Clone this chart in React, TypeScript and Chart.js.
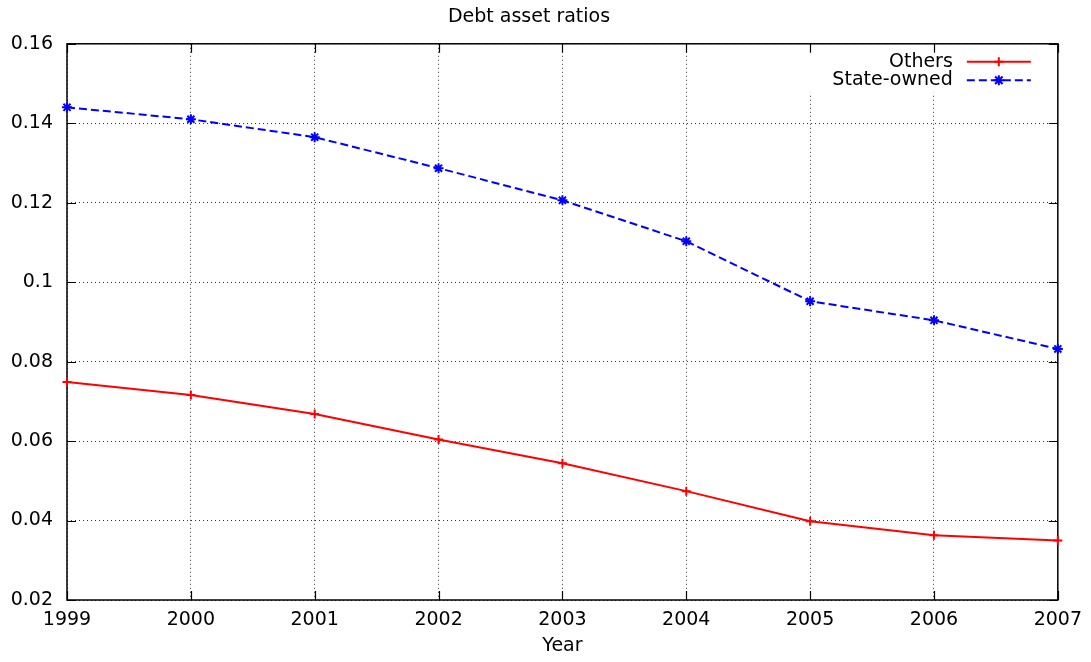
import React, { useEffect, useRef } from 'react';
import { Chart, registerables } from 'chart.js';

Chart.register(...registerables);

const years = ['1999', '2000', '2001', '2002', '2003', '2004', '2005', '2006', '2007'];
const others = [0.0749, 0.0716, 0.0668, 0.0604, 0.0544, 0.0474, 0.0398, 0.0363, 0.035];
const stateOwned = [0.144, 0.141, 0.1365, 0.1287, 0.1206, 0.1103, 0.0952, 0.0904, 0.0832];
const yMin = 0.02;
const yMax = 0.16;
const yStep = 0.02;

const FONT = '"DejaVu Sans", "Liberation Sans", sans-serif';

function drawMarker(ctx: CanvasRenderingContext2D, style: string, x: number, y: number, r: number) {
  ctx.beginPath();
  ctx.moveTo(x - r, y);
  ctx.lineTo(x + r, y);
  ctx.moveTo(x, y - r);
  ctx.lineTo(x, y + r);
  if (style === 'star') {
    const d = r * 0.75;
    ctx.moveTo(x - d, y - d);
    ctx.lineTo(x + d, y + d);
    ctx.moveTo(x - d, y + d);
    ctx.lineTo(x + d, y - d);
  }
  ctx.stroke();
}

const framePlugin = {
  id: 'gnuplotFrame',
  beforeDatasetsDraw(chart: any) {
    const { ctx, chartArea: a, scales } = chart;
    const xs = scales.x;
    const ys = scales.y;
    ctx.save();
    // blank area behind key
    ctx.fillStyle = '#ffffff';
    ctx.fillRect(a.right - 254, a.top, 254, 49);
    // border
    ctx.strokeStyle = '#000';
    ctx.lineWidth = 1.5;
    ctx.strokeRect(a.left, a.top, a.right - a.left, a.bottom - a.top);
    // inward ticks
    ctx.lineWidth = 1.2;
    const tl = 9;
    ctx.beginPath();
    xs.ticks.forEach((_t: any, i: number) => {
      const px = Math.round(xs.getPixelForTick(i)) + 0.5;
      ctx.moveTo(px, a.bottom);
      ctx.lineTo(px, a.bottom - tl);
      ctx.moveTo(px, a.top);
      ctx.lineTo(px, a.top + tl);
    });
    ys.ticks.forEach((_t: any, i: number) => {
      const py = Math.round(ys.getPixelForTick(i)) + 0.5;
      ctx.moveTo(a.left, py);
      ctx.lineTo(a.left + tl, py);
      ctx.moveTo(a.right, py);
      ctx.lineTo(a.right - tl, py);
    });
    ctx.stroke();
    ctx.restore();
  },
  afterDatasetsDraw(chart: any) {
    const { ctx, chartArea: a } = chart;
    ctx.save();
    ctx.font = `19px ${FONT}`;
    ctx.textAlign = 'right';
    ctx.textBaseline = 'middle';
    chart.data.datasets.forEach((ds: any, i: number) => {
      const cy = a.top + 18 + i * 18.5;
      ctx.fillStyle = '#000';
      ctx.fillText(ds.label, a.right - 105, cy);
      ctx.strokeStyle = ds.borderColor;
      ctx.lineWidth = ds.borderWidth;
      ctx.setLineDash(ds.borderDash || []);
      ctx.beginPath();
      ctx.moveTo(a.right - 91, cy);
      ctx.lineTo(a.right - 27, cy);
      ctx.stroke();
      ctx.setLineDash([]);
      ctx.lineWidth = ds.pointBorderWidth;
      drawMarker(ctx, ds.pointStyle, a.right - 59, cy, ds.pointRadius);
    });
    ctx.restore();
  },
};

export default function App() {
  const ref = useRef<HTMLCanvasElement | null>(null);

  useEffect(() => {
    if (!ref.current) return;
    Chart.defaults.font.family = FONT;
    Chart.defaults.font.size = 19;
    Chart.defaults.color = '#000';
    const chart = new Chart(ref.current, {
      type: 'line',
      data: {
        labels: years,
        datasets: [
          {
            label: 'Others',
            data: others,
            borderColor: '#ff0000',
            backgroundColor: '#ff0000',
            borderWidth: 2,
            pointStyle: 'cross',
            pointRadius: 4.5,
            pointBorderWidth: 2,
            pointBorderColor: '#ff0000',
            tension: 0,
            fill: false,
            clip: false,
          },
          {
            label: 'State-owned',
            data: stateOwned,
            borderColor: '#0000ff',
            backgroundColor: '#0000ff',
            borderWidth: 2,
            borderDash: [8, 4],
            pointStyle: 'star',
            pointRadius: 5,
            pointBorderWidth: 2,
            pointBorderColor: '#0000ff',
            tension: 0,
            fill: false,
            clip: false,
          },
        ] as any,
      },
      options: {
        animation: false,
        responsive: true,
        maintainAspectRatio: false,
        events: [],
        layout: { padding: { left: 0, right: 33, top: 0, bottom: 0 } },
        plugins: {
          legend: { display: false },
          tooltip: { enabled: false },
          title: {
            display: true,
            text: 'Debt asset ratios',
            color: '#000',
            font: { family: FONT, size: 19, weight: 'normal', lineHeight: 1.2 },
            padding: { top: 6, bottom: 15 },
          },
        },
        scales: {
          x: {
            type: 'category',
            offset: false,
            grid: { color: 'rgba(0,0,0,0.8)', lineWidth: 1, drawTicks: false, offset: false },
            border: { display: false, dash: [1, 3] },
            ticks: { padding: 9, maxRotation: 0, autoSkip: false, font: { family: FONT, size: 19 } },
            title: {
              display: true,
              text: 'Year',
              font: { family: FONT, size: 19, lineHeight: 1.2 },
              padding: { top: 0, bottom: 5 },
            },
            afterFit: (axis: any) => {
              axis.height = 62;
            },
          },
          y: {
            type: 'linear',
            min: yMin,
            max: yMax,
            grid: { color: 'rgba(0,0,0,0.8)', lineWidth: 1, drawTicks: false },
            border: { display: false, dash: [1, 3] },
            ticks: {
              stepSize: yStep,
              padding: 14,
              font: { family: FONT, size: 19 },
              callback: (v: any) => String(parseFloat(Number(v).toFixed(2))),
            },
            afterFit: (axis: any) => {
              axis.width = 67;
            },
          },
        },
      } as any,
      plugins: [framePlugin],
    });
    return () => chart.destroy();
  }, []);

  return (
    <div style={{ position: 'fixed', left: 0, top: 0, width: 1091, height: 662, background: '#fff' }}>
      <canvas ref={ref} />
    </div>
  );
}
